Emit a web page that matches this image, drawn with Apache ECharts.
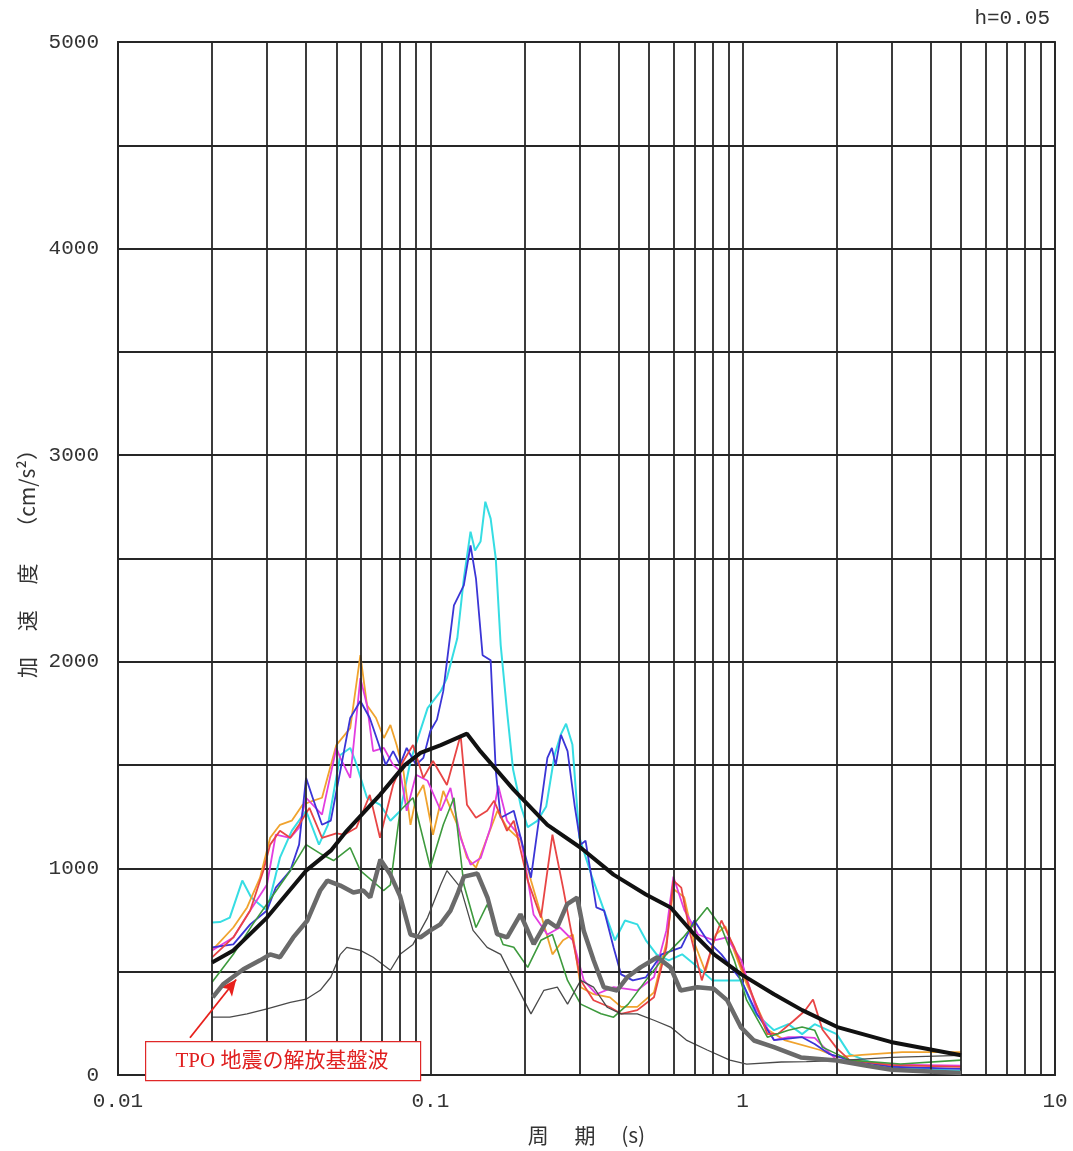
<!DOCTYPE html>
<html>
<head>
<meta charset="utf-8">
<script src="https://cdn.jsdelivr.net/npm/echarts@6/dist/echarts.min.js"></script>
<style>
html,body{margin:0;padding:0;background:#fff;}
#chart{width:1073px;height:1151px;}
</style>
</head>
<body>
<div id="chart"></div>
<script>
// ---- data ----
const xMajorTicks = [0.01, 0.1, 1, 10];
const xGridTicks = [0.02,0.03,0.04,0.05,0.06,0.07,0.08,0.09,0.2,0.3,0.4,0.5,0.6,0.7,0.8,0.9,2,3,4,5,6,7,8,9];
const yTickLabels = [0, 1000, 2000, 3000, 4000, 5000];

const designSpec = [[0.02,545],[0.0234,603],[0.03,762],[0.04,989],[0.048,1086],[0.054,1182],[0.069,1356],[0.083,1501],[0.093,1559],[0.108,1597],[0.131,1652],[0.145,1565],[0.185,1380],[0.237,1211],[0.303,1100],[0.386,970],[0.49,874],[0.588,811],[0.70,680],[0.81,584],[0.99,487],[1.26,391],[1.55,314],[2.01,232],[2.98,160],[5.0,96]];

const tpoWave = [[0.0201,376],[0.0217,439],[0.0252,512],[0.0285,555],[0.0307,584],[0.033,570],[0.0364,666],[0.0404,748],[0.0444,893],[0.0468,941],[0.0515,917],[0.0567,883],[0.061,893],[0.0642,859],[0.0692,1043],[0.0745,970],[0.080,866],[0.0864,680],[0.093,666],[0.1,700],[0.1076,729],[0.116,796],[0.122,874],[0.128,960],[0.1415,975],[0.1524,859],[0.1636,682],[0.1762,666],[0.1943,778],[0.2143,634],[0.2366,747],[0.2547,714],[0.2742,827],[0.2952,859],[0.3098,698],[0.3335,554],[0.3592,425],[0.3963,409],[0.4267,473],[0.471,521],[0.533,570],[0.5875,521],[0.6327,409],[0.716,425],[0.809,417],[0.893,361],[0.986,232],[1.087,167],[1.259,135],[1.535,85],[2.0,70],[2.5,45],[3.0,25],[5.0,10]];

const thinGray = [[0.02,280],[0.0228,280],[0.0259,296],[0.030,320],[0.0356,352],[0.040,367],[0.0444,410],[0.048,473],[0.0515,584],[0.054,618],[0.0597,603],[0.0656,570],[0.0745,507],[0.080,584],[0.088,632],[0.098,762],[0.108,922],[0.113,989],[0.125,907],[0.137,700],[0.152,618],[0.168,584],[0.185,458],[0.21,296],[0.231,410],[0.255,425],[0.275,343],[0.303,458],[0.333,425],[0.368,328],[0.408,296],[0.46,296],[0.52,265],[0.588,232],[0.66,169],[0.77,121],[0.91,72],[1.03,53],[1.33,63],[1.6,65],[2.0,70],[3.0,85],[5.0,95]];

const greenWave = [[0.02,449],[0.0234,584],[0.027,729],[0.031,859],[0.0356,989],[0.040,1115],[0.045,1067],[0.049,1038],[0.0554,1100],[0.0597,989],[0.0708,893],[0.0745,920],[0.080,1279],[0.088,1342],[0.1,1004],[0.11,1211],[0.119,1342],[0.128,922],[0.14,714],[0.152,825],[0.171,632],[0.185,618],[0.205,521],[0.226,652],[0.246,680],[0.275,458],[0.303,343],[0.352,296],[0.386,280],[0.43,343],[0.49,458],[0.57,584],[0.645,666],[0.77,811],[0.855,714],[0.94,555],[1.03,362],[1.2,183],[1.4,217],[1.55,232],[1.7,217],[1.8,135],[2.2,72],[3.2,53],[5.0,72]];

const redWave = [[0.02,569],[0.0234,666],[0.0265,796],[0.0292,989],[0.0307,1115],[0.033,1182],[0.0356,1148],[0.038,1211],[0.041,1293],[0.045,1148],[0.050,1170],[0.053,1163],[0.058,1197],[0.064,1356],[0.069,1148],[0.076,1404],[0.082,1520],[0.088,1597],[0.095,1438],[0.102,1520],[0.113,1404],[0.125,1646],[0.131,1308],[0.14,1245],[0.152,1279],[0.16,1327],[0.176,1182],[0.185,1231],[0.205,941],[0.226,762],[0.246,1163],[0.266,907],[0.286,652],[0.303,458],[0.333,362],[0.376,328],[0.408,296],[0.46,314],[0.52,376],[0.57,618],[0.6,941],[0.636,907],[0.68,680],[0.74,458],[0.81,652],[0.855,748],[0.94,618],[1.03,458],[1.2,198],[1.3,200],[1.45,260],[1.58,310],[1.68,365],[1.8,220],[2.0,130],[2.2,72],[3.0,48],[5.0,39]];

const orangeWave = [[0.02,603],[0.0234,714],[0.0259,811],[0.0285,955],[0.0307,1148],[0.033,1211],[0.036,1231],[0.039,1308],[0.042,1327],[0.045,1342],[0.050,1597],[0.0554,1679],[0.0597,2032],[0.0627,1790],[0.067,1728],[0.071,1631],[0.0745,1694],[0.078,1597],[0.082,1472],[0.0864,1211],[0.09,1342],[0.095,1404],[0.102,1163],[0.11,1375],[0.122,1211],[0.131,1052],[0.14,1004],[0.152,1148],[0.164,1279],[0.176,1197],[0.195,1134],[0.21,941],[0.226,777],[0.246,584],[0.266,652],[0.286,680],[0.303,425],[0.333,391],[0.376,376],[0.408,330],[0.46,330],[0.52,400],[0.57,640],[0.6,900],[0.65,860],[0.7,640],[0.76,500],[0.82,680],[0.88,720],[0.95,580],[1.03,440],[1.2,220],[1.36,169],[1.77,121],[2.0,87],[2.41,97],[3.24,111],[5.0,111]];

const magentaWave = [[0.02,603],[0.0234,666],[0.0265,796],[0.03,922],[0.032,1163],[0.0356,1148],[0.038,1197],[0.04,1342],[0.045,1260],[0.05,1583],[0.0515,1535],[0.0554,1438],[0.0597,1921],[0.0627,1790],[0.0656,1568],[0.071,1583],[0.076,1501],[0.08,1472],[0.084,1279],[0.09,1453],[0.098,1424],[0.108,1279],[0.116,1390],[0.125,1148],[0.1345,1018],[0.145,1050],[0.156,1200],[0.165,1400],[0.176,1231],[0.195,1148],[0.214,777],[0.237,680],[0.26,714],[0.286,652],[0.31,458],[0.34,391],[0.386,425],[0.46,410],[0.52,473],[0.57,700],[0.6,960],[0.65,800],[0.72,680],[0.81,652],[0.89,666],[0.99,555],[1.1,328],[1.26,169],[1.4,183],[1.55,183],[1.7,180],[2.0,72],[3.0,50],[5.0,45]];

const blueWave = [[0.02,618],[0.0234,632],[0.0265,729],[0.03,796],[0.032,907],[0.0356,989],[0.038,1115],[0.04,1438],[0.042,1342],[0.045,1211],[0.048,1231],[0.0515,1472],[0.0554,1728],[0.0597,1810],[0.064,1728],[0.069,1583],[0.072,1501],[0.076,1568],[0.08,1501],[0.084,1583],[0.09,1501],[0.095,1535],[0.1,1665],[0.105,1720],[0.11,1858],[0.119,2273],[0.128,2370],[0.1345,2563],[0.14,2403],[0.147,2032],[0.156,2008],[0.162,1472],[0.168,1245],[0.185,1279],[0.21,955],[0.237,1535],[0.245,1583],[0.252,1500],[0.262,1646],[0.275,1568],[0.29,1300],[0.303,1115],[0.314,1134],[0.34,811],[0.36,796],[0.386,618],[0.408,487],[0.445,458],[0.49,473],[0.55,584],[0.636,618],[0.70,748],[0.77,652],[0.855,584],[0.99,458],[1.11,296],[1.26,169],[1.55,183],[1.7,150],[1.9,101],[2.2,72],[3.0,40],[5.0,30]];

const cyanWave = [[0.02,738],[0.0212,740],[0.0228,762],[0.025,941],[0.0267,859],[0.03,796],[0.033,1052],[0.036,1182],[0.04,1279],[0.044,1115],[0.047,1211],[0.0515,1549],[0.0554,1583],[0.0575,1520],[0.0627,1342],[0.0692,1308],[0.0745,1231],[0.0802,1279],[0.0864,1520],[0.098,1776],[0.108,1858],[0.113,1921],[0.122,2114],[0.128,2403],[0.1345,2630],[0.139,2539],[0.1448,2582],[0.15,2775],[0.156,2693],[0.162,2500],[0.168,2080],[0.176,1761],[0.184,1480],[0.195,1300],[0.205,1200],[0.22,1230],[0.235,1300],[0.25,1550],[0.262,1650],[0.272,1700],[0.285,1600],[0.3,1150],[0.33,955],[0.36,796],[0.39,652],[0.42,748],[0.46,729],[0.49,652],[0.53,584],[0.58,555],[0.64,584],[0.7,536],[0.8,458],[0.99,458],[1.1,296],[1.26,217],[1.4,246],[1.55,198],[1.7,246],[2.0,198],[2.2,101],[2.8,39],[5.0,20]];

const arrowFrom = [0.0170, 180];
const arrowTo = [0.0239, 462];
const noteText = 'TPO 地震の解放基盤波';
const dampingText = 'h=0.05';
const xName = '周　 期　 (s)';
const yName = '加　 速　 度　 （cm/s²）';

// ---- chart ----
const chart = echarts.init(document.getElementById('chart'), null, {renderer: 'canvas'});
const gridColor = '#262626';
const monoFont = '"Liberation Mono","DejaVu Sans Mono",monospace';
const cjkFont = '"Noto Sans CJK JP","Liberation Mono",sans-serif';

function lineSeries(name, data, color, width, z) {
  return {
    name, type: 'line', data, symbol: 'none', smooth: false, z: z || 3,
    lineStyle: {color, width}, itemStyle: {color}, animation: false, silent: true
  };
}

const option = {
  animation: false,
  backgroundColor: '#fff',
  grid: {left: 118, right: 18, top: 42, bottom: 73, show: true, borderColor: gridColor, borderWidth: 1.8, backgroundColor: 'transparent'},
  xAxis: {
    type: 'log', logBase: 10, min: xMajorTicks[0], max: xMajorTicks[xMajorTicks.length - 1],
    axisLine: {show: true, lineStyle: {color: gridColor, width: 1.8}},
    axisTick: {show: false},
    splitLine: {show: true, lineStyle: {color: gridColor, width: 1.8}},
    minorTick: {show: false}, minorSplitLine: {show: false},
    axisLabel: {color: '#333', fontFamily: monoFont, fontSize: 21, margin: 16,
      formatter: v => (xMajorTicks.some(t => Math.abs(t - v) / t < 1e-6) ? String(v) : '')},
    name: xName, nameLocation: 'middle', nameGap: 50,
    nameTextStyle: {color: '#333', fontFamily: cjkFont, fontSize: 21}
  },
  yAxis: {
    type: 'value', min: 0, max: 5000, interval: 500,
    axisLine: {show: true, lineStyle: {color: gridColor, width: 1.8}},
    axisTick: {show: false},
    splitLine: {show: true, lineStyle: {color: gridColor, width: 1.8}},
    axisLabel: {color: '#333', fontFamily: monoFont, fontSize: 21, margin: 19,
      formatter: v => (yTickLabels.indexOf(v) >= 0 ? String(v) : '')},
    name: yName, nameLocation: 'middle', nameRotate: 90, nameGap: 78,
    nameTextStyle: {color: '#333', fontFamily: cjkFont, fontSize: 21}
  },
  series: [
    {
      name: 'grid', type: 'line', data: [], z: 1, silent: true, animation: false,
      markLine: {
        silent: true, animation: false, symbol: 'none', label: {show: false},
        lineStyle: {color: gridColor, width: 1.8, type: 'solid'},
        emphasis: {disabled: true},
        data: xGridTicks.map(v => ({xAxis: v}))
      }
    },
    lineSeries('cyan', cyanWave, '#36dde3', 2, 3),
    lineSeries('orange', orangeWave, '#f0a32e', 1.8, 3),
    lineSeries('magenta', magentaWave, '#e23ee0', 1.8, 3),
    lineSeries('blue', blueWave, '#3b35d6', 1.8, 3),
    lineSeries('red', redWave, '#e84545', 1.8, 3),
    lineSeries('green', greenWave, '#3d9a3d', 1.6, 3),
    lineSeries('thin', thinGray, '#4a4a4a', 1.3, 4),
    Object.assign(lineSeries('tpo', tpoWave, '#6a6a6a', 4.5, 5), {
      markLine: {
        silent: true, animation: false, symbol: ['none', 'arrow'], symbolSize: [11, 16],
        label: {show: false}, lineStyle: {color: '#e8201c', width: 1.8, type: 'solid'},
        data: [[{coord: arrowFrom}, {coord: arrowTo}]]
      }
    }),
    lineSeries('design', designSpec, '#111111', 4, 6)
  ],
  graphic: [
    {type: 'text', right: 23, top: 8, z: 10,
      style: {text: dampingText, fill: '#333', font: '21px ' + monoFont}},
    {type: 'rect', left: 145, top: 1041, z: 10,
      shape: {width: 275, height: 39},
      style: {fill: '#fff', stroke: '#e02828', lineWidth: 1.2}},
    {type: 'text', x: 282, y: 1061, z: 11,
      style: {text: noteText, fill: '#e02020', align: 'center', verticalAlign: 'middle',
        font: '21px "Liberation Serif","Noto Sans CJK JP",serif'}}
  ]
};
chart.setOption(option);
</script>
</body>
</html>
